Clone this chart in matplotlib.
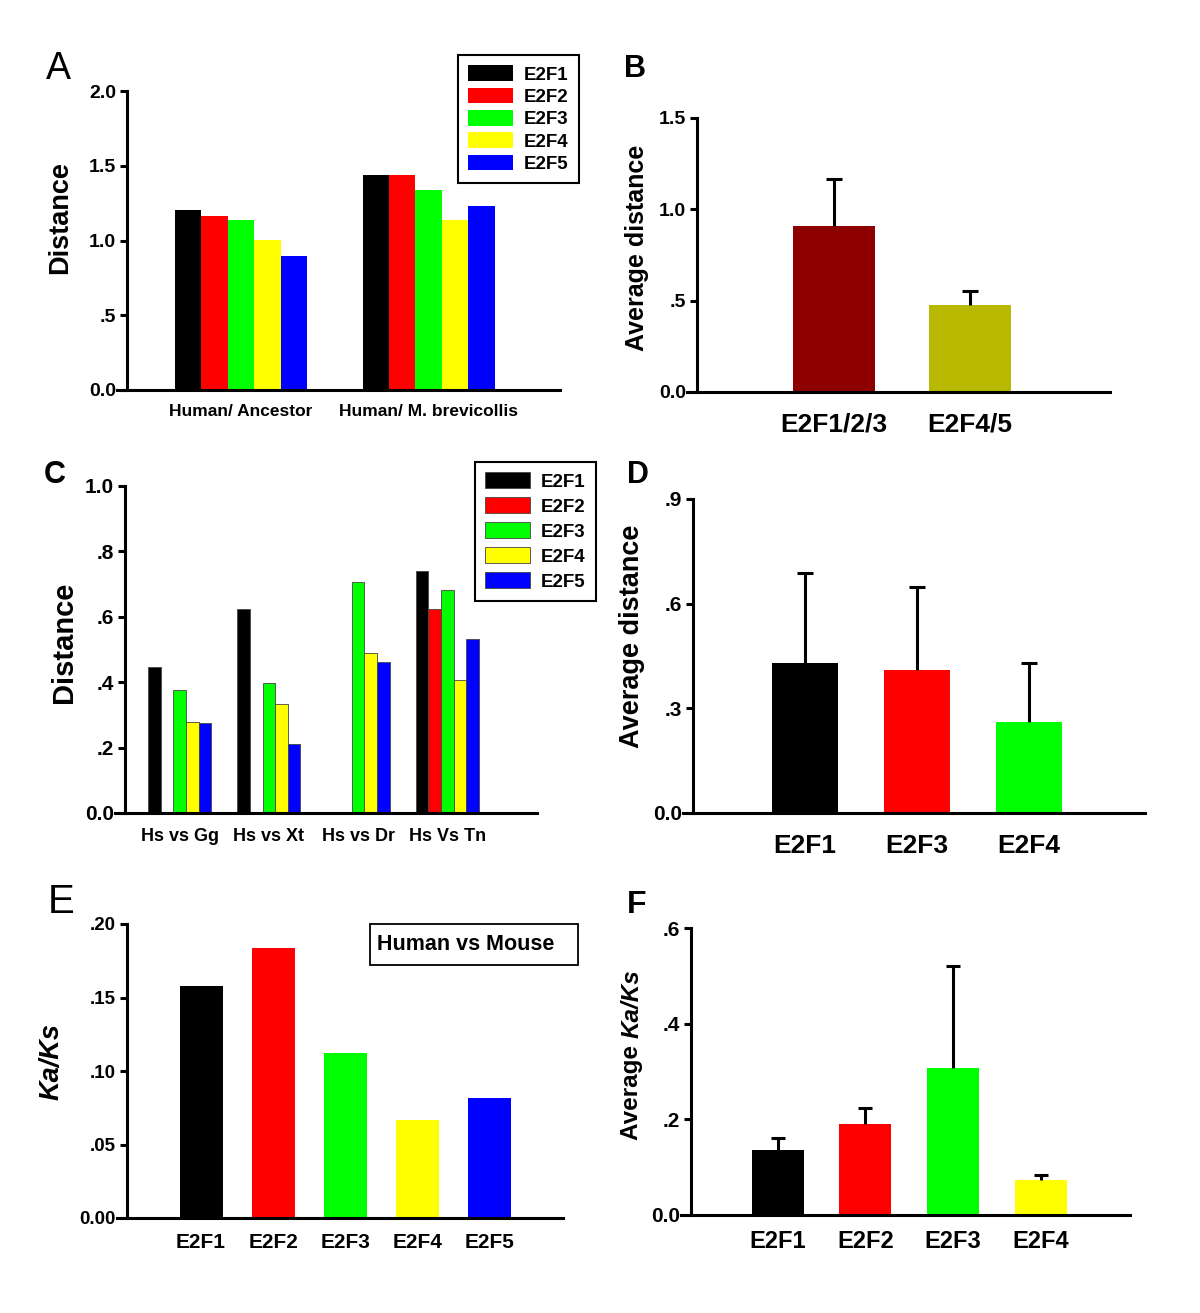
import matplotlib
matplotlib.use('Agg')
import matplotlib.pyplot as plt
import numpy as np
from matplotlib.patches import Rectangle

plt.rcParams['font.family'] = 'Liberation Sans'
plt.rcParams['font.weight'] = 'bold'

# data
genes = ['E2F1', 'E2F2', 'E2F3', 'E2F4', 'E2F5']
gene_colors = ['#000000', '#ff0000', '#00ff00', '#ffff00', '#0000ff']

# A: distance
a_groups = ['Human/ Ancestor', 'Human/ M. brevicollis']
a_e2f1 = [1.207, 1.441]
a_e2f2 = [1.163, 1.441]
a_e2f3 = [1.134, 1.336]
a_e2f4 = [1.002, 1.136]
a_e2f5 = [0.898, 1.232]

# B: average distance
b_labels = ['E2F1/2/3', 'E2F4/5']
b_means = [0.909, 0.474]
b_err = [0.257, 0.079]
b_colors = ['#8e0000', '#b8b800']

# C: distance per species pair (nan = no value)
c_groups = ['Hs vs Gg', 'Hs vs Xt', 'Hs vs Dr', 'Hs Vs Tn']
c_e2f1 = [0.447, 0.624, np.nan, 0.739]
c_e2f2 = [np.nan, np.nan, np.nan, 0.624]
c_e2f3 = [0.376, 0.398, 0.707, 0.683]
c_e2f4 = [0.279, 0.334, 0.490, 0.408]
c_e2f5 = [0.275, 0.211, 0.462, 0.532]

# D: average distance
d_labels = ['E2F1', 'E2F3', 'E2F4']
d_means = [0.429, 0.409, 0.260]
d_err = [0.259, 0.239, 0.171]
d_colors = ['#000000', '#ff0000', '#00ff00']

# E: Ka/Ks human vs mouse
e_labels = ['E2F1', 'E2F2', 'E2F3', 'E2F4', 'E2F5']
e_values = [0.158, 0.184, 0.112, 0.067, 0.0814]

# F: average Ka/Ks
f_labels = ['E2F1', 'E2F2', 'E2F3', 'E2F4']
f_means = [0.135, 0.190, 0.307, 0.073]
f_err = [0.025, 0.034, 0.213, 0.011]
f_colors = ['#000000', '#ff0000', '#00ff00', '#ffff00']

W, H = 1200, 1313
fig = plt.figure(figsize=(12, 13.13), dpi=100)


def setup(ax, left, right, top, bottom, c0, step, ymax, yticks, dec, ysize, gap=10):
    ax.set_position([(left - gap) / W, 1 - bottom / H, (right - left + gap) / W, (bottom - top) / H])
    ax.set_xlim((left - gap - c0) / step, (right - c0) / step)
    ax.spines['left'].set_position(('data', (left - c0) / step))
    ax.set_ylim(0, ymax)
    ax.set_yticks(yticks)
    labs = []
    for v in yticks:
        s = f'{v:.{dec}f}'
        if s.startswith('0.') and v != 0:
            s = s[1:]
        labs.append(s)
    ax.set_yticklabels(labs)
    for s in ['top', 'right']:
        ax.spines[s].set_visible(False)
    for s in ['left', 'bottom']:
        ax.spines[s].set_linewidth(2.2)
    ax.tick_params(axis='y', direction='out', length=5, width=2.2, pad=3, labelsize=ysize)
    ax.tick_params(axis='x', length=0)


def upper_err(ax, x, means, err, cap):
    eb = ax.errorbar(x, means, yerr=[np.zeros(len(err)), err], fmt='none', ecolor='black',
                     elinewidth=2.2, capsize=cap, capthick=2.2)
    eb[1][0].set_visible(False)  # no cap at the bar top


def ylab(x, y, text, size, style='normal'):
    fig.text(x / W, 1 - y / H, text, rotation=90, ha='center', va='center', fontsize=size,
             fontstyle=style)


def letter(x, y, text, size, weight='bold'):
    fig.text(x / W, 1 - y / H, text, ha='left', va='baseline', fontsize=size, fontweight=weight)


def legend(ax, x, y, fs, spacing):
    leg = ax.legend(loc='upper left', bbox_to_anchor=(x / W, 1 - y / H), bbox_transform=fig.transFigure,
                    fontsize=fs, handlelength=2.4, handleheight=0.9, handletextpad=0.55,
                    labelspacing=spacing, borderpad=0.55, borderaxespad=0, fancybox=False,
                    edgecolor='black', framealpha=1)
    leg.get_frame().set_linewidth(1.5)


# ---- A ----
ax = fig.add_axes([0, 0, 1, 1])
setup(ax, 127, 560, 91, 390, 241, 187.5, 2.0, [0, 0.5, 1.0, 1.5, 2.0], 1, 14)
w = 26.4 / 187.5
x = np.arange(len(a_groups))
for i, vals in enumerate([a_e2f1, a_e2f2, a_e2f3, a_e2f4, a_e2f5]):
    ax.bar(x + (i - 2) * w, vals, w, color=gene_colors[i], label=genes[i])
ax.set_xticks(x)
ax.set_xticklabels(a_groups, fontsize=12.5)
ax.tick_params(axis='x', pad=10)
legend(ax, 458, 55, 13.5, 0.22)
ylab(60, 218, 'Distance', 19.5)
letter(46, 79, 'A', 27, 'normal')

# ---- B ----
ax = fig.add_axes([0, 0, 1, 1])
setup(ax, 697, 1110, 118, 392, 834, 136, 1.5, [0, 0.5, 1.0, 1.5], 1, 14)
x = np.arange(len(b_labels))
ax.bar(x, b_means, 82 / 136, color=b_colors)
upper_err(ax, x, b_means, b_err, 6)
ax.set_xticks(x)
ax.set_xticklabels(b_labels, fontsize=19)
ax.tick_params(axis='x', pad=15)
ylab(637, 248, 'Average distance', 18)
letter(624, 77, 'B', 22)

# ---- C ----
ax = fig.add_axes([0, 0, 1, 1])
setup(ax, 125, 537, 486, 813, 179.7, 89.2, 1.0, [0, 0.2, 0.4, 0.6, 0.8, 1.0], 1, 15)
w = 12.6 / 89.2
x = np.arange(len(c_groups))
for i, vals in enumerate([c_e2f1, c_e2f2, c_e2f3, c_e2f4, c_e2f5]):
    ax.bar(x + (i - 2) * w, vals, w, color=gene_colors[i], edgecolor='#444444',
           linewidth=0.6, label=genes[i])
ax.set_xticks(x)
ax.set_xticklabels(c_groups, fontsize=13)
ax.tick_params(axis='x', pad=11)
legend(ax, 475, 462, 13.5, 0.36)
ylab(64, 642, 'Distance', 21)
letter(44, 483, 'C', 22)

# ---- D ----
ax = fig.add_axes([0, 0, 1, 1])
setup(ax, 693, 1145, 499, 813, 805, 112, 0.9, [0, 0.3, 0.6, 0.9], 1, 15)
x = np.arange(len(d_labels))
ax.bar(x, d_means, 66 / 112, color=d_colors)
upper_err(ax, x, d_means, d_err, 5.5)
ax.set_xticks(x)
ax.set_xticklabels(d_labels, fontsize=19)
ax.tick_params(axis='x', pad=15)
ylab(632, 636, 'Average distance', 19.5)
letter(627, 483, 'D', 22)

# ---- E ----
ax = fig.add_axes([0, 0, 1, 1])
setup(ax, 127, 563, 924, 1218, 201, 72.1, 0.20, [0, 0.05, 0.10, 0.15, 0.20], 2, 13.5)
x = np.arange(len(e_labels))
ax.bar(x, e_values, 43 / 72.1, color=gene_colors)
ax.set_xticks(x)
ax.set_xticklabels(e_labels, fontsize=15)
ax.tick_params(axis='x', pad=11)
fig.patches.append(Rectangle((370 / W, 1 - 965 / H), 208 / W, 41 / H, transform=fig.transFigure,
                             fill=False, edgecolor='black', linewidth=1.3))
fig.text(377 / W, 1 - 945 / H, 'Human vs Mouse', ha='left', va='center', fontsize=15.5)
ylab(52, 1062, 'Ka/Ks', 19.5, 'italic')
letter(48, 913, 'E', 29, 'normal')

# ---- F ----
ax = fig.add_axes([0, 0, 1, 1])
setup(ax, 691, 1130, 928, 1215, 777.5, 87.8, 0.6, [0, 0.2, 0.4, 0.6], 1, 15)
x = np.arange(len(f_labels))
ax.bar(x, f_means, 52 / 87.8, color=f_colors)
upper_err(ax, x, f_means, f_err, 5)
ax.set_xticks(x)
ax.set_xticklabels(f_labels, fontsize=17)
ax.tick_params(axis='x', pad=11)
# "Average" upright, "Ka/Ks" italic, stacked along the rotated label
t1 = fig.text(632 / W, 1 - 1140 / H, 'Average ', rotation=90, ha='center', va='bottom', fontsize=17.5)
renderer = fig.canvas.get_renderer()
h1 = t1.get_window_extent(renderer).height
fig.text(632 / W, 1 - 1140 / H + h1 / H, 'Ka/Ks', rotation=90, ha='center', va='bottom',
         fontsize=17.5, fontstyle='italic')
letter(627, 913, 'F', 23)

plt.savefig('out.png', dpi=100)
